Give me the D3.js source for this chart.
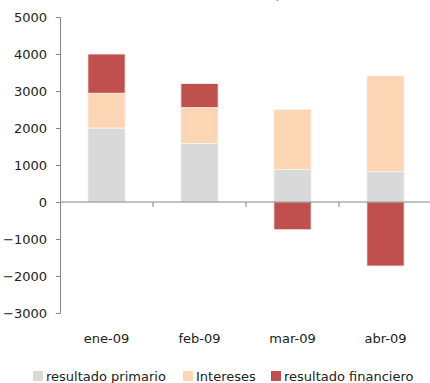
<!DOCTYPE html>
<html>
<head>
<meta charset="utf-8">
<script src="https://cdn.jsdelivr.net/npm/d3@7"></script>
<style>
  body { margin: 0; background: #fff; overflow: hidden; }
  svg { display: block; font-family: "DejaVu Sans", sans-serif; }
</style>
</head>
<body>
<svg id="chart"></svg>
<script>
// datos (millones de pesos)
const meses = ["ene-09", "feb-09", "mar-09", "abr-09"];
const resultadoPrimario = [2000, 1580, 880, 820];
const intereses = [940, 970, 1620, 2590];
const resultadoFinanciero = [1060, 650, -750, -1730];
const yTicks = [-3000, -2000, -1000, 0, 1000, 2000, 3000, 4000, 5000];

const series = [
  { key: "primario", label: "resultado primario", color: "#d9d9d9", values: resultadoPrimario },
  { key: "intereses", label: "Intereses", color: "#fcd5b5", values: intereses },
  { key: "financiero", label: "resultado financiero", color: "#c0504d", values: resultadoFinanciero }
];

const width = 430, height = 383;
const svg = d3.select("#chart").attr("width", width).attr("height", height);

// tabla para d3.stack
const table = meses.map((m, i) => {
  const row = { mes: m };
  series.forEach(s => row[s.key] = s.values[i]);
  return row;
});

const stacked = d3.stack()
  .keys(series.map(s => s.key))
  .offset(d3.stackOffsetDiverging)(table);

const y = d3.scaleLinear().domain([-3000, 5000]).range([313, 17]);

const x = d3.scaleBand()
  .domain(meses)
  .range([60, 432])
  .paddingInner(0.6)
  .paddingOuter(0.3);

// escala sin padding para las marcas entre categorias
const xCat = d3.scaleBand().domain(meses).range([60, 432]);

// titulo (cortado arriba en el original, solo se ven los bordes inferiores)
svg.append("text")
  .attr("x", 38)
  .attr("y", -2)
  .attr("fill", "#8c8c8c")
  .style("font-size", "15px")
  .text("Resultado fiscal          en millones de pesos");

// barras
const color = d3.scaleOrdinal().domain(series.map(s => s.key)).range(series.map(s => s.color));

svg.append("g")
  .selectAll("g")
  .data(stacked)
  .join("g")
  .attr("fill", d => color(d.key))
  .selectAll("rect")
  .data(d => d)
  .join("rect")
  .attr("x", d => x(d.data.mes))
  .attr("width", x.bandwidth())
  .attr("y", d => y(d[1]))
  .attr("height", d => y(d[0]) - y(d[1]))
  .attr("stroke", "#f4f4f4")
  .attr("stroke-width", 0.8);

// eje Y
const yAxis = svg.append("g")
  .attr("transform", "translate(60,0)")
  .call(d3.axisLeft(y).tickValues(yTicks).tickSize(4).tickPadding(9).tickFormat(d3.format("d")));
yAxis.select(".domain").attr("stroke", "#868686");
yAxis.selectAll(".tick line").attr("stroke", "#868686");
yAxis.selectAll("text")
  .attr("fill", "#222")
  .style("font-size", "13px")
  .style("font-family", "DejaVu Sans, sans-serif");

// eje X en cero
const xAxisG = svg.append("g");
xAxisG.append("line")
  .attr("x1", 60).attr("x2", 432)
  .attr("y1", y(0)).attr("y2", y(0))
  .attr("stroke", "#868686");
xAxisG.selectAll("line.tick")
  .data(meses)
  .join("line")
  .attr("class", "tick")
  .attr("x1", d => xCat(d) + xCat.bandwidth())
  .attr("x2", d => xCat(d) + xCat.bandwidth())
  .attr("y1", y(0))
  .attr("y2", y(0) + 5)
  .attr("stroke", "#868686");

// etiquetas de categorias
svg.append("g")
  .selectAll("text")
  .data(meses)
  .join("text")
  .attr("x", d => xCat(d) + xCat.bandwidth() / 2)
  .attr("y", 343)
  .attr("text-anchor", "middle")
  .attr("fill", "#222")
  .style("font-size", "13px")
  .text(d => d);

// leyenda
const legendX = [33, 183, 271];
const legend = svg.append("g")
  .selectAll("g")
  .data(series)
  .join("g")
  .attr("transform", (d, i) => `translate(${legendX[i]},371)`);

legend.append("rect")
  .attr("width", 10)
  .attr("height", 10)
  .attr("fill", d => d.color);

legend.append("text")
  .attr("x", 13)
  .attr("y", 10)
  .attr("fill", "#222")
  .style("font-size", "13px")
  .text(d => d.label);
</script>
</body>
</html>
